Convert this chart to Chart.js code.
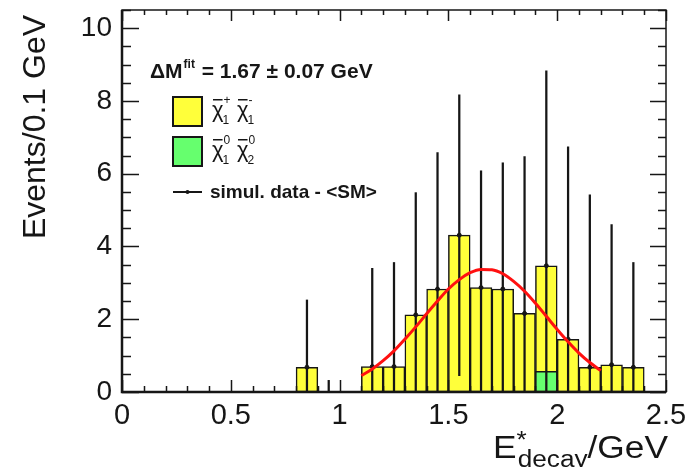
<!DOCTYPE html>
<html>
<head>
<meta charset="utf-8">
<script src="https://cdn.jsdelivr.net/npm/chart.js@4.4.1/dist/chart.umd.min.js"></script>
<style>
    html, body { margin: 0; padding: 0; background: #fff; }
    #wrap { width: 695px; height: 467px; }
</style>
</head>
<body>
<div id="wrap"><canvas id="decayChart"></canvas></div>
<script>
// histogram bins (centre, GeV) and contents
const binCenters = [0.85, 1.15, 1.25, 1.35, 1.45, 1.55, 1.65, 1.75, 1.85, 1.95, 2.05, 2.15, 2.25, 2.35];
const charginoCounts = [0.68, 0.70, 0.70, 2.12, 2.83, 4.31, 2.87, 2.83, 2.16, 3.47, 1.45, 0.68, 0.75, 0.68];
const neutralinoCenters = [1.95];
const neutralinoCounts = [0.57];

// simulated data minus SM, with errors
const dataCenters = [0.85, 0.95, 1.15, 1.25, 1.35, 1.45, 1.55, 1.65, 1.75, 1.85, 1.95, 2.05, 2.15, 2.25, 2.35];
const dataValues = [0.68, -1.5, 0.70, 0.70, 2.12, 2.83, 4.31, 2.87, 2.83, 2.16, 3.47, 1.45, 0.68, 0.75, 0.68];
const dataErrors = [1.85, 1.82, 2.70, 2.86, 3.36, 3.75, 3.86, 3.21, 3.47, 4.31, 5.36, 5.29, 4.74, 3.85, 2.88];

// gaussian fit curve
const fitX = [1.10, 1.15, 1.20, 1.25, 1.30, 1.35, 1.40, 1.45, 1.50, 1.55, 1.60, 1.65,
              1.70, 1.75, 1.80, 1.85, 1.90, 1.95, 2.00, 2.05, 2.10, 2.15, 2.20];
const fitY = [0.45, 0.63, 0.86, 1.13, 1.45, 1.79, 2.15, 2.50, 2.83, 3.09, 3.28, 3.37,
              3.36, 3.25, 3.04, 2.77, 2.44, 2.08, 1.72, 1.38, 1.07, 0.81, 0.59];

const xTicks = [0, 0.5, 1, 1.5, 2, 2.5];
const yTicks = [0, 2, 4, 6, 8, 10];

const YELLOW = '#ffff3a';
const GREEN = '#66ff6e';
const INK = '#161616';
const FONT = '"Liberation Sans", Arial, Helvetica, sans-serif';

// ROOT style frame: inward ticks on all four sides
const framePlugin = {
    id: 'frame',
    afterDatasetsDraw(chart) {
        const { ctx, chartArea: a, scales: { x, y } } = chart;
        ctx.save();
        ctx.strokeStyle = INK;
        ctx.lineWidth = 1.5;
        ctx.beginPath();
        for (let i = 0; i <= 21; i++) {
            const py = Math.round(y.getPixelForValue(i * 0.5)) + 0.5;
            const major = i % 4 === 0;
            ctx.moveTo(a.left, py);
            ctx.lineTo(a.left + (major ? 17 : 9), py);
            ctx.moveTo(a.right, py);
            ctx.lineTo(a.right - (major ? 16 : 8), py);
        }
        for (let i = 0; i <= 25; i++) {
            const px = Math.round(x.getPixelForValue(i * 0.1)) + 0.5;
            const major = i % 5 === 0;
            ctx.moveTo(px, a.bottom);
            ctx.lineTo(px, a.bottom - (major ? 12 : 6));
            ctx.moveTo(px, a.top);
            ctx.lineTo(px, a.top + (major ? 11 : 5));
        }
        ctx.stroke();

        // frame
        ctx.lineWidth = 1.5;
        ctx.strokeRect(a.left, a.top, a.right - a.left, a.bottom - a.top);
        ctx.lineWidth = 2.5;
        ctx.beginPath();
        ctx.moveTo(a.left, a.top);
        ctx.lineTo(a.left, a.bottom);
        ctx.lineTo(a.right, a.bottom);
        ctx.stroke();
        ctx.restore();
    }
};

// axis titles and legend box
const textPlugin = {
    id: 'texts',
    afterDraw(chart) {
        const ctx = chart.ctx;
        ctx.save();
        ctx.fillStyle = INK;
        ctx.textBaseline = 'alphabetic';

        // y title
        ctx.save();
        ctx.translate(45, 127);
        ctx.rotate(-Math.PI / 2);
        ctx.textAlign = 'center';
        ctx.font = '32px ' + FONT;
        ctx.fillText('Events/0.1 GeV', 0, 0);
        ctx.restore();

        // x title: E*_decay/GeV, stretched to span 493..668
        ctx.textAlign = 'left';
        const big = '31px ' + FONT;
        const small = '23px ' + FONT;
        ctx.font = big;
        const wE = ctx.measureText('E').width;
        const wUnit = ctx.measureText('/GeV').width;
        ctx.font = small;
        const wSub = ctx.measureText('decay').width + 1;
        const sx = (668 - 493) / (wE + wSub + wUnit);
        ctx.save();
        ctx.translate(493, 0);
        ctx.scale(sx, 1);
        ctx.font = big;
        ctx.fillText('E', 0, 458);
        ctx.font = small;
        ctx.fillText('*', wE, 448);
        ctx.fillText('decay', wE + 1, 467);
        ctx.font = big;
        ctx.fillText('/GeV', wE + wSub, 458);
        ctx.restore();

        // fit result
        ctx.font = 'bold 21px ' + FONT;
        ctx.fillText('\u0394M', 150, 78);
        let tx = 150 + ctx.measureText('\u0394M').width;
        ctx.font = 'bold 12px ' + FONT;
        ctx.fillText('fit', tx + 1, 68);
        tx += ctx.measureText('fit').width + 2;
        ctx.font = 'bold 21px ' + FONT;
        ctx.fillText(' = 1.67 \u00b1 0.07 GeV', tx, 78);

        // legend boxes
        ctx.lineWidth = 2;
        ctx.strokeStyle = INK;
        ctx.fillStyle = YELLOW;
        ctx.fillRect(173, 97, 29, 29);
        ctx.strokeRect(173, 97, 29, 29);
        ctx.fillStyle = GREEN;
        ctx.fillRect(173, 137, 29, 29);
        ctx.strokeRect(173, 137, 29, 29);

        ctx.fillStyle = INK;
        const chi = (x0, base, sup, sub) => {
            ctx.font = '22px ' + FONT;
            ctx.fillText('\u03c7', x0, base);
            const w = ctx.measureText('\u03c7').width;
            ctx.fillRect(x0 + 1, base - 18, w - 2, 1.5);
            ctx.font = '12px ' + FONT;
            ctx.fillText(sup, x0 + w, base - 13);
            ctx.fillText(sub, x0 + w - 1, base + 7);
        };
        chi(212, 117, '+', '1');
        chi(237, 117, '-', '1');
        chi(212, 157, '0', '1');
        chi(237, 157, '0', '2');

        // data entry
        ctx.lineWidth = 2;
        ctx.beginPath();
        ctx.moveTo(173, 192);
        ctx.lineTo(202, 192);
        ctx.stroke();
        ctx.beginPath();
        ctx.arc(187.5, 192, 2, 0, Math.PI * 2);
        ctx.fill();
        ctx.font = 'bold 19px ' + FONT;
        ctx.fillText('simul. data - <SM>', 210, 198);
        ctx.restore();
    }
};

const ctx = document.getElementById('decayChart').getContext('2d');

new Chart(ctx, {
    type: 'bar',
    data: {
        datasets: [
            {
                type: 'line',
                data: fitX.map((v, i) => ({ x: v, y: fitY[i] })),
                borderColor: '#ff1010',
                borderWidth: 3,
                pointRadius: 0,
                cubicInterpolationMode: 'monotone',
                order: 1
            },
            {
                type: 'scatter',
                data: dataCenters.map((v, i) => ({ x: v, y: dataValues[i] })),
                backgroundColor: INK,
                borderColor: INK,
                pointRadius: 2,
                order: 2
            },
            {
                // error bars drawn as thin floating bars
                data: dataCenters.map((v, i) => ({ x: v, y: [dataValues[i] - dataErrors[i], dataValues[i] + dataErrors[i]] })),
                backgroundColor: INK,
                borderWidth: 0,
                barThickness: 1.6,
                grouped: false,
                order: 3
            },
            {
                data: neutralinoCenters.map((v, i) => ({ x: v, y: neutralinoCounts[i] })),
                backgroundColor: GREEN,
                borderColor: INK,
                borderWidth: 1.5,
                borderSkipped: false,
                barPercentage: 1,
                categoryPercentage: 1,
                grouped: false,
                order: 4
            },
            {
                data: binCenters.map((v, i) => ({ x: v, y: charginoCounts[i] })),
                backgroundColor: YELLOW,
                borderColor: INK,
                borderWidth: 1.5,
                borderSkipped: false,
                barPercentage: 1,
                categoryPercentage: 1,
                grouped: false,
                order: 5
            }
        ]
    },
    options: {
        responsive: true,
        maintainAspectRatio: false,
        animation: false,
        layout: { padding: { top: 10, right: 29, left: 0, bottom: 0 } },
        plugins: {
            legend: { display: false },
            tooltip: { enabled: false }
        },
        scales: {
            x: {
                type: 'linear',
                offset: false,
                min: 0,
                max: 2.5,
                grid: { display: false, drawTicks: false },
                border: { display: false },
                afterBuildTicks: (scale) => { scale.ticks = xTicks.map(v => ({ value: v })); },
                afterFit: (scale) => {
                    scale.height = 75;
                    scale.paddingLeft = 0;
                    scale.paddingRight = 0;
                },
                ticks: {
                    padding: 7,
                    color: INK,
                    font: { family: FONT, size: 29 },
                    maxRotation: 0,
                    callback: (v) => String(v)
                }
            },
            y: {
                min: 0,
                max: 10.5,
                grid: { display: false, drawTicks: false },
                border: { display: false },
                afterBuildTicks: (scale) => { scale.ticks = yTicks.map(v => ({ value: v })); },
                afterFit: (scale) => {
                    scale.width = 122;
                    scale.paddingTop = 0;
                    scale.paddingBottom = 0;
                },
                ticks: {
                    padding: 10,
                    color: INK,
                    font: { family: FONT, size: 28 },
                    callback: (v) => String(v)
                }
            }
        }
    },
    plugins: [framePlugin, textPlugin]
});
</script>
</body>
</html>
